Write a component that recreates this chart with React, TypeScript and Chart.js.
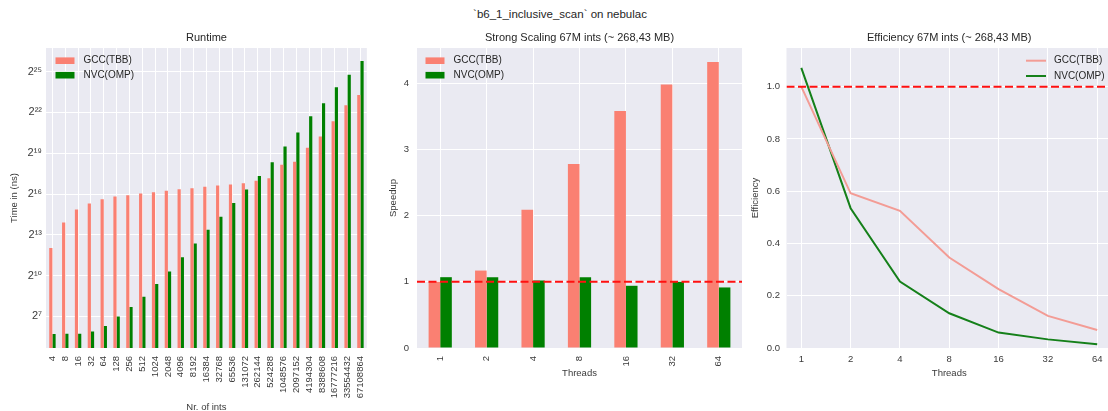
import React, { useEffect, useRef } from 'react';
import { Chart, registerables } from 'chart.js';

Chart.register(...registerables);

const FONT = '"Liberation Sans", Arial, "DejaVu Sans", sans-serif';
const TICK_COLOR = '#3a3a3a';
const MAIN_TITLE = '`b6_1_inclusive_scan` on nebulac';

// ---------- Runtime panel ----------
const SIZES = [
  '4', '8', '16', '32', '64', '128', '256', '512', '1024', '2048', '4096', '8192', '16384',
  '32768', '65536', '131072', '262144', '524288', '1048576', '2097152', '4194304',
  '8388608', '16777216', '33554432', '67108864',
];
const GCC_RUNTIME_NS = [
  4182, 15393, 29737, 40337, 50364, 57836, 61997, 67377, 72215, 77398, 84109, 88290, 95290,
  101424, 106463, 114104, 128371, 147470, 290880, 338795, 691800, 1229800, 2691500,
  6056100, 10256000,
];
const NVC_RUNTIME_NS = [
  52.3, 53.1, 53.1, 59.7, 78.2, 128, 206.5, 349.7, 666.3, 1269.5, 2628, 5257, 10587,
  20595, 41766, 82379, 163617, 331826, 736300, 1503700, 3454400, 6719800, 15225000,
  28809000, 58019000,
];
const RUNTIME_TICK_EXPONENTS = [7, 10, 13, 16, 19, 22, 25];

// ---------- Strong scaling panel ----------
const THREADS = [1, 2, 4, 8, 16, 32, 64];
const GCC_SPEEDUP = [1.0, 1.17, 2.09, 2.78, 3.58, 3.98, 4.32];
const NVC_SPEEDUP = [1.07, 1.07, 1.02, 1.07, 0.94, 1.0, 0.915];
const SPEEDUP_TICKS = [0, 1, 2, 3, 4];

// ---------- Efficiency panel ----------
const GCC_EFFICIENCY = [1.0, 0.592, 0.525, 0.346, 0.225, 0.123, 0.069];
const NVC_EFFICIENCY = [1.072, 0.535, 0.254, 0.133, 0.059, 0.033, 0.014];
const EFFICIENCY_TICKS = [0, 0.2, 0.4, 0.6, 0.8, 1.0];

const IDEAL_VALUE = 1;

const SALMON = '#FA8072';
const GREEN = '#008000';

const SUP: Record<string, string> = {
  '0': '⁰', '1': '¹', '2': '²', '3': '³', '4': '⁴', '5': '⁵', '6': '⁶', '7': '⁷', '8': '⁸', '9': '⁹',
};
const supText = (n: number) => String(n).split('').map((c) => SUP[c] || c).join('');

const bgPlugin = {
  id: 'plotBg',
  beforeDraw(chart: any) {
    const { ctx, chartArea } = chart;
    ctx.save();
    ctx.fillStyle = '#EAEAF2';
    ctx.fillRect(chartArea.left, chartArea.top, chartArea.right - chartArea.left, chartArea.bottom - chartArea.top);
    ctx.restore();
  },
};

const panelTitlePlugin = {
  id: 'panelTitle',
  afterDraw(chart: any, _args: any, opts: any) {
    if (!opts || !opts.text) return;
    const { ctx, chartArea } = chart;
    ctx.save();
    ctx.font = `11px ${FONT}`;
    ctx.fillStyle = '#262626';
    ctx.textAlign = 'center';
    ctx.textBaseline = 'middle';
    ctx.fillText(opts.text, (chartArea.left + chartArea.right) / 2, chartArea.top - 10.5);
    ctx.restore();
  },
};

const refLinePlugin = {
  id: 'refLine',
  afterDatasetsDraw(chart: any, _args: any, opts: any) {
    if (!opts || opts.value === undefined) return;
    const { ctx, chartArea, scales } = chart;
    const y = scales.y.getPixelForValue(opts.value);
    ctx.save();
    ctx.beginPath();
    ctx.rect(chartArea.left, chartArea.top, chartArea.right - chartArea.left, chartArea.bottom - chartArea.top);
    ctx.clip();
    ctx.strokeStyle = '#FF1010';
    ctx.lineWidth = 2;
    ctx.setLineDash([8, 3.5]);
    ctx.beginPath();
    ctx.moveTo(chartArea.left, y);
    ctx.lineTo(chartArea.right, y);
    ctx.stroke();
    ctx.restore();
  },
};

const innerLegendPlugin = {
  id: 'innerLegend',
  afterDraw(chart: any, _args: any, opts: any) {
    if (!opts || !opts.items) return;
    const { ctx, chartArea } = chart;
    ctx.save();
    ctx.font = `10px ${FONT}`;
    ctx.textBaseline = 'middle';
    ctx.textAlign = 'left';
    opts.items.forEach((it: any, i: number) => {
      const y = chartArea.top + opts.rows[i];
      const x0 = opts.side === 'right' ? chartArea.right - opts.offset : chartArea.left + opts.offset;
      if (it.kind === 'line') {
        ctx.strokeStyle = it.color;
        ctx.lineWidth = 2;
        ctx.setLineDash([]);
        ctx.beginPath();
        ctx.moveTo(x0, y);
        ctx.lineTo(x0 + 20, y);
        ctx.stroke();
      } else {
        ctx.fillStyle = it.color;
        ctx.fillRect(x0, y - 3.3, 19, 6.6);
      }
      ctx.fillStyle = '#262626';
      ctx.fillText(it.label, x0 + 28, y);
    });
    ctx.restore();
  },
};

Chart.register(bgPlugin, panelTitlePlugin, refLinePlugin, innerLegendPlugin);

const tickFont = { family: FONT, size: 9.5 };
const axisTitleFont = { family: FONT, size: 9.5 };
const gridOpts = { color: '#FFFFFF', lineWidth: 1, drawTicks: false };

function runtimeConfig(): any {
  return {
    type: 'bar',
    data: {
      labels: SIZES,
      datasets: [
        { label: 'GCC(TBB)', data: GCC_RUNTIME_NS, backgroundColor: SALMON, categoryPercentage: 0.5, barPercentage: 1 },
        { label: 'NVC(OMP)', data: NVC_RUNTIME_NS, backgroundColor: GREEN, categoryPercentage: 0.5, barPercentage: 1 },
      ],
    },
    options: {
      responsive: false,
      animation: false,
      layout: { padding: { top: 48, right: 8, bottom: 0, left: 0 } },
      plugins: {
        legend: { display: false },
        tooltip: { enabled: false },
        panelTitle: { text: 'Runtime' },
        innerLegend: {
          side: 'left', offset: 9.5, rows: [12.7, 27.2],
          items: [
            { label: 'GCC(TBB)', color: SALMON, kind: 'box' },
            { label: 'NVC(OMP)', color: GREEN, kind: 'box' },
          ],
        },
      },
      scales: {
        x: {
          grid: { ...gridOpts, offset: false },
          border: { display: false },
          ticks: { autoSkip: false, minRotation: 90, maxRotation: 90, padding: 8, font: tickFont, color: TICK_COLOR },
          title: { display: true, text: 'Nr. of ints', font: axisTitleFont, color: TICK_COLOR, padding: 0 },
          afterFit: (s: any) => { s.height = 65; },
        },
        y: {
          type: 'logarithmic',
          bounds: 'data',
          min: Math.pow(2, 4.68),
          max: Math.pow(2, 26.74),
          afterBuildTicks: (s: any) => {
            s.ticks = RUNTIME_TICK_EXPONENTS.map((e) => ({ value: Math.pow(2, e) }));
          },
          grid: gridOpts,
          border: { display: false },
          ticks: {
            padding: 4,
            font: { family: FONT, size: 11 },
            color: TICK_COLOR,
            callback: (v: any) => '2' + supText(Math.round(Math.log2(Number(v)))),
          },
          title: { display: true, text: 'Time in (ns)', font: axisTitleFont, color: TICK_COLOR, padding: { top: 9, bottom: 0 } },
          afterFit: (s: any) => { s.width = 46; },
        },
      },
    },
  };
}

function speedupConfig(): any {
  return {
    type: 'bar',
    data: {
      labels: THREADS.map(String),
      datasets: [
        { label: 'GCC(TBB)', data: GCC_SPEEDUP, backgroundColor: SALMON, categoryPercentage: 0.5, barPercentage: 1 },
        { label: 'NVC(OMP)', data: NVC_SPEEDUP, backgroundColor: GREEN, categoryPercentage: 0.5, barPercentage: 1 },
      ],
    },
    options: {
      responsive: false,
      animation: false,
      layout: { padding: { top: 48, right: 8, bottom: 32.3, left: 0 } },
      plugins: {
        legend: { display: false },
        tooltip: { enabled: false },
        panelTitle: { text: 'Strong Scaling 67M ints (~ 268,43 MB)' },
        refLine: { value: IDEAL_VALUE },
        innerLegend: {
          side: 'left', offset: 8.5, rows: [12.7, 27.2],
          items: [
            { label: 'GCC(TBB)', color: SALMON, kind: 'box' },
            { label: 'NVC(OMP)', color: GREEN, kind: 'box' },
          ],
        },
      },
      scales: {
        x: {
          grid: { ...gridOpts, offset: false },
          border: { display: false },
          ticks: { autoSkip: false, minRotation: 90, maxRotation: 90, padding: 8, font: tickFont, color: TICK_COLOR },
          title: { display: true, text: 'Threads', font: axisTitleFont, color: TICK_COLOR, padding: 0 },
          afterFit: (s: any) => { s.height = 30.7; },
        },
        y: {
          type: 'linear',
          bounds: 'data',
          min: 0,
          max: 4.533,
          afterBuildTicks: (s: any) => { s.ticks = SPEEDUP_TICKS.map((v) => ({ value: v })); },
          grid: gridOpts,
          border: { display: false },
          ticks: { padding: 8, font: tickFont, color: TICK_COLOR, callback: (v: any) => String(v) },
          title: { display: true, text: 'Speedup', font: axisTitleFont, color: TICK_COLOR, padding: { top: 7.6, bottom: 0 } },
          afterFit: (s: any) => { s.width = 37; },
        },
      },
    },
  };
}

function efficiencyConfig(): any {
  return {
    type: 'line',
    data: {
      datasets: [
        {
          label: 'GCC(TBB)',
          data: THREADS.map((t, i) => ({ x: t, y: GCC_EFFICIENCY[i] })),
          borderColor: '#F39C95',
          borderWidth: 2,
          pointRadius: 0,
          tension: 0,
        },
        {
          label: 'NVC(OMP)',
          data: THREADS.map((t, i) => ({ x: t, y: NVC_EFFICIENCY[i] })),
          borderColor: '#15801A',
          borderWidth: 2,
          pointRadius: 0,
          tension: 0,
        },
      ],
    },
    options: {
      responsive: false,
      animation: false,
      layout: { padding: { top: 48, right: 8, bottom: 32.3, left: 0 } },
      plugins: {
        legend: { display: false },
        tooltip: { enabled: false },
        panelTitle: { text: 'Efficiency 67M ints (~ 268,43 MB)' },
        refLine: { value: IDEAL_VALUE },
        innerLegend: {
          side: 'right', offset: 86, rows: [12.7, 28],
          items: [
            { label: 'GCC(TBB)', color: '#F39C95', kind: 'line' },
            { label: 'NVC(OMP)', color: '#15801A', kind: 'line' },
          ],
        },
      },
      scales: {
        x: {
          type: 'logarithmic',
          bounds: 'data',
          min: Math.pow(2, -0.3),
          max: Math.pow(2, 6.3),
          afterBuildTicks: (s: any) => { s.ticks = THREADS.map((v) => ({ value: v })); },
          grid: gridOpts,
          border: { display: false },
          ticks: { autoSkip: false, maxRotation: 0, minRotation: 0, padding: 6, font: tickFont, color: TICK_COLOR, callback: (v: any) => String(v) },
          title: { display: true, text: 'Threads', font: axisTitleFont, color: TICK_COLOR, padding: 0 },
          afterFit: (s: any) => { s.height = 30.7; },
        },
        y: {
          type: 'linear',
          bounds: 'data',
          min: 0,
          max: 1.148,
          afterBuildTicks: (s: any) => { s.ticks = EFFICIENCY_TICKS.map((v) => ({ value: v })); },
          grid: gridOpts,
          border: { display: false },
          ticks: { padding: 6.5, font: tickFont, color: TICK_COLOR, callback: (v: any) => Number(v).toFixed(1) },
          title: { display: true, text: 'Efficiency', font: axisTitleFont, color: TICK_COLOR, padding: { top: 4.3, bottom: 0 } },
          afterFit: (s: any) => { s.width = 41.5; },
        },
      },
    },
  };
}

function ChartCanvas(props: { make: () => any; left: number; width: number; height: number }) {
  const ref = useRef<HTMLCanvasElement | null>(null);
  useEffect(() => {
    if (!ref.current) return;
    const chart = new Chart(ref.current, props.make());
    return () => chart.destroy();
  }, []);
  return (
    <canvas
      ref={ref}
      width={props.width}
      height={props.height}
      style={{ position: 'absolute', left: props.left, top: 0, width: props.width, height: props.height }}
    />
  );
}

export default function App() {
  return (
    <div
      style={{
        position: 'absolute', left: 0, top: 0, width: 1108, height: 411,
        overflow: 'hidden', background: '#FFFFFF', fontFamily: FONT,
      }}
    >
      <div
        style={{
          position: 'absolute', left: 0, top: 6, width: 1120, textAlign: 'center',
          fontSize: 11.5, lineHeight: '16px', color: '#262626', fontFamily: FONT,
        }}
      >
        {MAIN_TITLE}
      </div>
      <ChartCanvas make={runtimeConfig} left={0} width={380} height={413} />
      <ChartCanvas make={speedupConfig} left={380} width={370} height={411} />
      <ChartCanvas make={efficiencyConfig} left={745} width={375} height={411} />
    </div>
  );
}
